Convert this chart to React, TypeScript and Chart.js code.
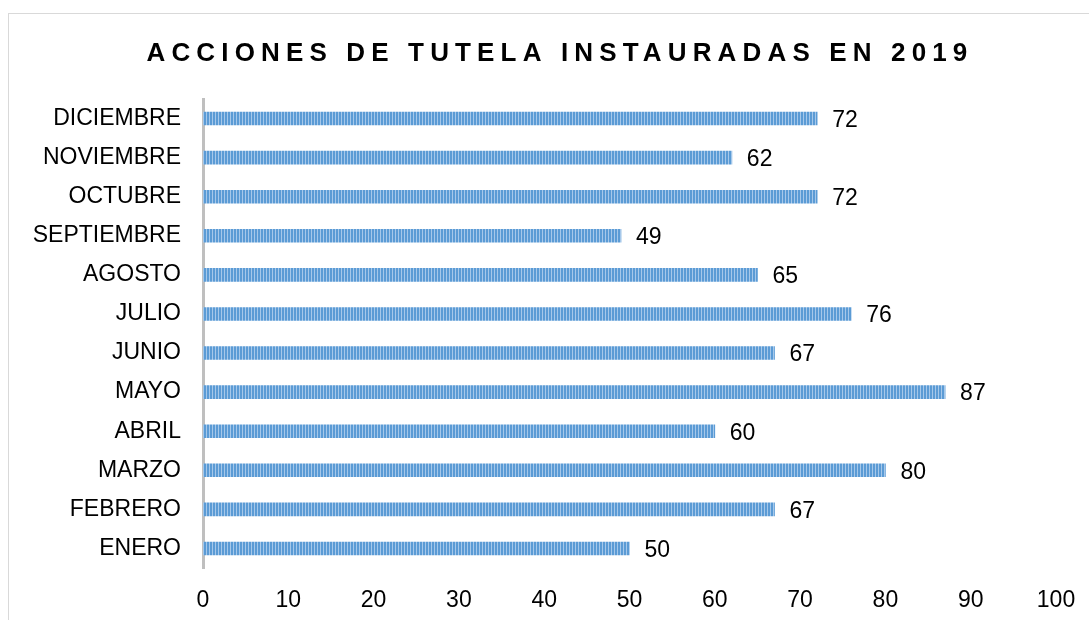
import React, { useEffect, useRef } from "react";
import { Chart, registerables } from "chart.js";

Chart.register(...registerables);

const TITLE = "ACCIONES DE TUTELA INSTAURADAS EN 2019";
const MONTHS = [
  "DICIEMBRE",
  "NOVIEMBRE",
  "OCTUBRE",
  "SEPTIEMBRE",
  "AGOSTO",
  "JULIO",
  "JUNIO",
  "MAYO",
  "ABRIL",
  "MARZO",
  "FEBRERO",
  "ENERO",
];
const VALUES = [72, 62, 72, 49, 65, 76, 67, 87, 60, 80, 67, 50];
const X_MIN = 0;
const X_MAX = 100;
const X_STEP = 10;

const FONT = "'Liberation Sans', Arial, sans-serif";

function makePattern(): CanvasPattern | string {
  const c = document.createElement("canvas");
  c.width = 3;
  c.height = 1;
  const ctx = c.getContext("2d");
  if (!ctx) return "#5b9bd5";
  ctx.fillStyle = "#5b9bd5";
  ctx.fillRect(0, 0, 2, 1);
  ctx.fillStyle = "#a6c8ea";
  ctx.fillRect(2, 0, 1, 1);
  const p = ctx.createPattern(c, "repeat");
  return p || "#5b9bd5";
}

const titlePlugin = {
  id: "spacedTitle",
  afterDraw(chart: any) {
    const ctx = chart.ctx;
    ctx.save();
    ctx.font = `bold 26px ${FONT}`;
    (ctx as any).letterSpacing = "6.15px";
    ctx.fillStyle = "#000000";
    ctx.textAlign = "center";
    ctx.textBaseline = "middle";
    ctx.fillText(TITLE, 551, 40);
    ctx.restore();
  },
};

const valueLabels = {
  id: "valueLabels",
  afterDatasetsDraw(chart: any) {
    const ctx = chart.ctx;
    const meta = chart.getDatasetMeta(0);
    ctx.save();
    ctx.font = `23px ${FONT}`;
    ctx.fillStyle = "#000000";
    ctx.textAlign = "left";
    ctx.textBaseline = "middle";
    meta.data.forEach((bar: any, i: number) => {
      ctx.fillText(String(VALUES[i]), bar.x + 15, bar.y + 2);
    });
    ctx.restore();
  },
};

export default function App() {
  const ref = useRef<HTMLCanvasElement | null>(null);

  useEffect(() => {
    if (!ref.current) return;
    const chart = new Chart(ref.current, {
      type: "bar",
      data: {
        labels: MONTHS,
        datasets: [
          {
            data: VALUES,
            backgroundColor: makePattern() as any,
            borderWidth: 0,
            barThickness: 13,
          },
        ],
      },
      options: {
        indexAxis: "y",
        animation: false,
        responsive: false,
        devicePixelRatio: 1,
        layout: { padding: { top: 85, right: 33, left: 0, bottom: 0 } },
        plugins: {
          legend: { display: false },
          title: { display: false },
          tooltip: { enabled: false },
        },
        scales: {
          x: {
            min: X_MIN,
            max: X_MAX,
            ticks: {
              stepSize: X_STEP,
              color: "#000000",
              font: { family: FONT, size: 23 },
              padding: 19,
              maxRotation: 0,
            },
            grid: { display: false, drawTicks: false },
            border: { display: false },
            afterFit(scale: any) {
              scale.height = 52;
              scale.paddingLeft = 0;
              scale.paddingRight = 0;
            },
          },
          y: {
            ticks: {
              color: "#000000",
              font: { family: FONT, size: 23 },
              padding: 22,
            },
            grid: { display: false, drawTicks: false },
            border: { display: true, color: "#bfbfbf", width: 3 },
            afterFit(scale: any) {
              scale.width = 194;
            },
          },
        },
      },
      plugins: [titlePlugin, valueLabels],
    });
    return () => chart.destroy();
  }, []);

  return (
    <div
      style={{
        position: "fixed",
        left: 8,
        top: 13,
        width: 1090,
        height: 620,
        border: "1px solid #d9d9d9",
        background: "#ffffff",
        boxSizing: "border-box",
      }}
    >
      <canvas ref={ref} width={1080} height={606} style={{ display: "block" }} />
    </div>
  );
}
